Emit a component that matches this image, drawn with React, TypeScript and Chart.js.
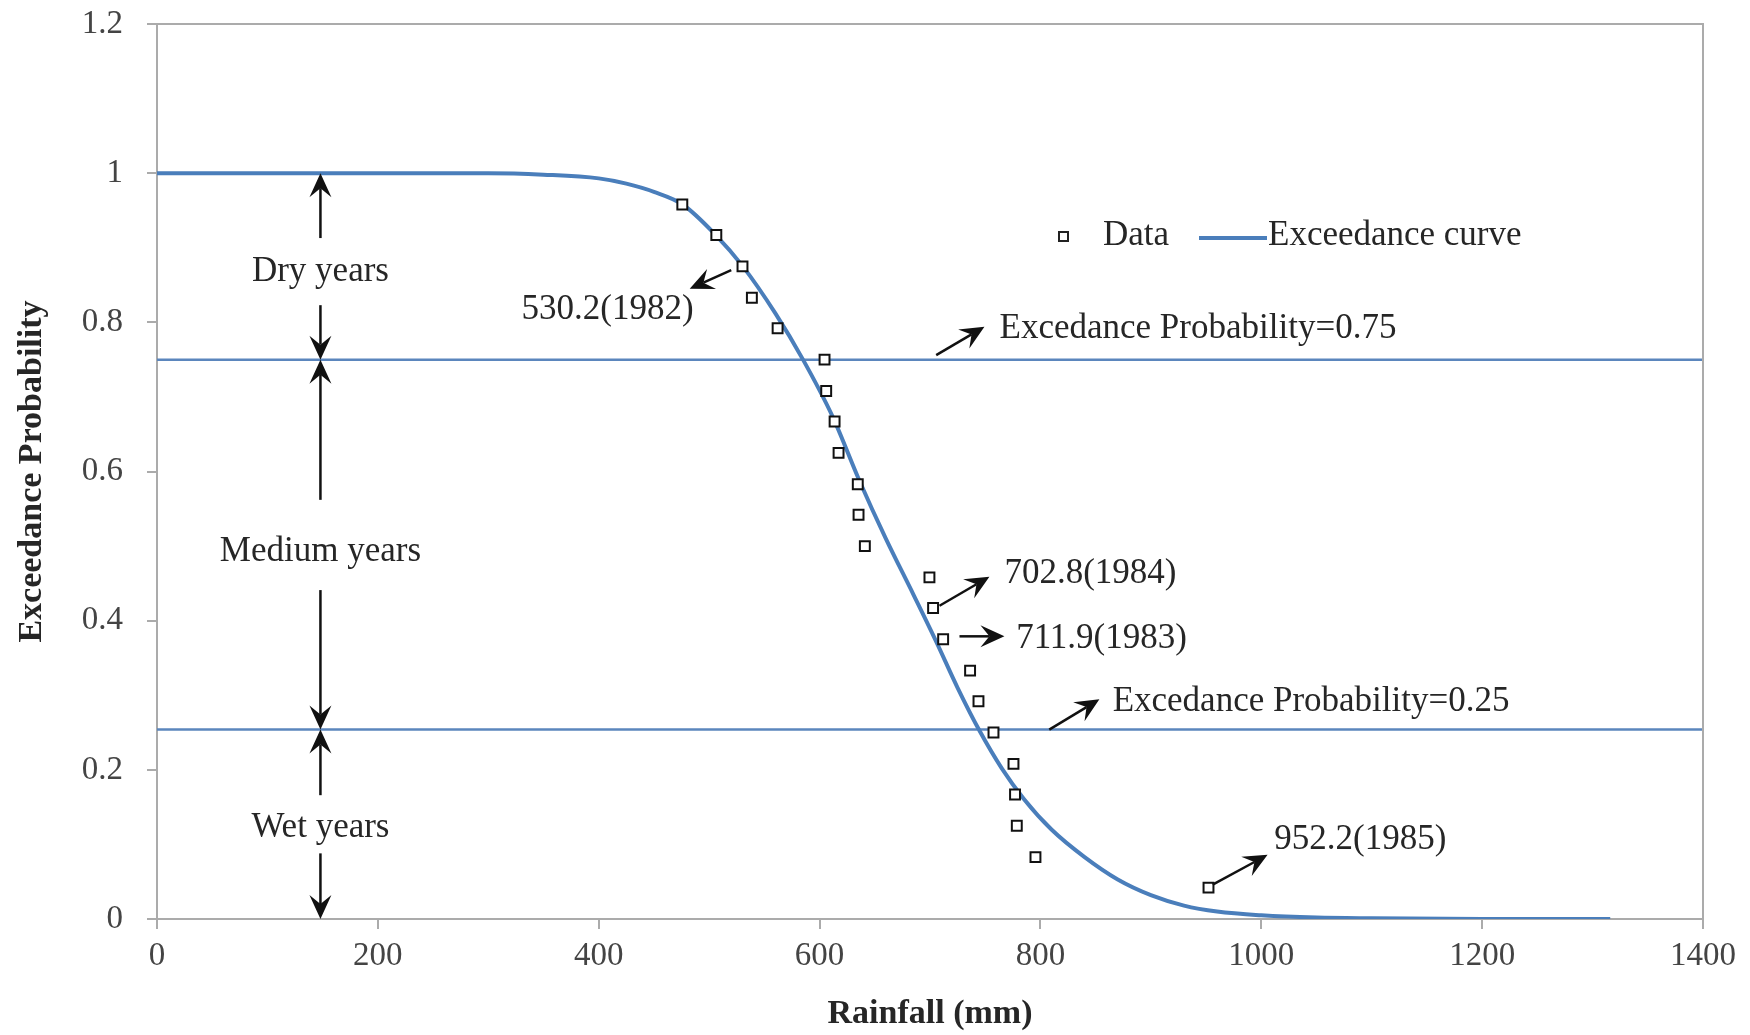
import React, { useEffect, useRef } from 'react';
import { Chart, registerables } from 'chart.js';

Chart.register(...registerables);

// ---- Data ----
const rainfall = [475.7, 506.5, 530.2, 538.7, 562, 604.5, 606, 613.6, 617.2, 634.6, 635.3, 641, 699.5, 702.8, 711.9, 736.3, 743.9, 757.5, 775.6, 777, 778.6, 795.5, 952.2];
const exceedance = [0.958, 0.917, 0.875, 0.833, 0.792, 0.75, 0.708, 0.667, 0.625, 0.583, 0.542, 0.5, 0.458, 0.417, 0.375, 0.333, 0.292, 0.25, 0.208, 0.167, 0.125, 0.083, 0.042];

const curveX = [0, 100, 200, 300, 350, 400, 425, 450, 476, 506, 530, 560, 585, 612, 636, 660, 685, 705, 725, 745, 765, 785, 810, 840, 870, 900, 930, 960, 1000, 1050, 1100, 1200, 1316];
const curveY = [1, 1, 1, 1, 0.998, 0.993, 0.986, 0.975, 0.958, 0.917, 0.876, 0.812, 0.75, 0.673, 0.588, 0.51, 0.435, 0.374, 0.31, 0.252, 0.202, 0.161, 0.12, 0.083, 0.053, 0.032, 0.018, 0.01, 0.005, 0.002, 0.001, 0, 0];

const thresholdLevels = [0.75, 0.254];
const thresholdRange = [0, 1400];

const xTicks = [0, 200, 400, 600, 800, 1000, 1200, 1400];
const yTicks = [0, 0.2, 0.4, 0.6, 0.8, 1, 1.2];
const yTickLabels = ['0', '0.2', '0.4', '0.6', '0.8', '1', '1.2'];

const bandLabels = ['Dry years', 'Medium years', 'Wet years'];
const bandLabelY = [0.868, 0.492, 0.122];
const bandX = 148;
const bandArrows = [
  [0.913, 1.0],
  [0.823, 0.75],
  [0.562, 0.75],
  [0.441, 0.254],
  [0.166, 0.254],
  [0.088, 0],
];

const calloutTexts = ['530.2(1982)', 'Excedance Probability=0.75', '702.8(1984)', '711.9(1983)', 'Excedance Probability=0.25', '952.2(1985)'];
const calloutTextX = [408, 763, 767.4, 778, 865.4, 1011.8];
const calloutTextY = [0.817, 0.791, 0.463, 0.376, 0.291, 0.106];
const calloutAlign = ['center', 'left', 'left', 'left', 'left', 'left'];
const calloutArrowFrom = [[520, 0.87], [705.6, 0.756], [708.6, 0.42], [726.7, 0.379], [808, 0.254], [956, 0.046]];
const calloutArrowTo = [[482.4, 0.845], [749.3, 0.794], [753.8, 0.459], [767.4, 0.379], [853.4, 0.2945], [1005.7, 0.086]];

const legendLabels = ['Data', 'Exceedance curve'];

const SERIF = '"Liberation Serif", "Times New Roman", serif';
const AXIS_COLOR = '#ababab';
const CURVE_COLOR = '#4a7ebb';
const LINE_COLOR = '#5b86bd';
const TEXT_COLOR = '#262626';

function drawArrow(ctx: CanvasRenderingContext2D, x1: number, y1: number, x2: number, y2: number) {
  const ang = Math.atan2(y2 - y1, x2 - x1);
  const L = 24;
  const W = 11;
  const notch = 15;
  const cos = Math.cos(ang);
  const sin = Math.sin(ang);
  ctx.beginPath();
  ctx.moveTo(x1, y1);
  ctx.lineTo(x2 - cos * notch, y2 - sin * notch);
  ctx.stroke();
  ctx.beginPath();
  ctx.moveTo(x2, y2);
  ctx.lineTo(x2 - cos * L - sin * W, y2 - sin * L + cos * W);
  ctx.lineTo(x2 - cos * notch, y2 - sin * notch);
  ctx.lineTo(x2 - cos * L + sin * W, y2 - sin * L - cos * W);
  ctx.closePath();
  ctx.fill();
}

const annotationPlugin = {
  id: 'annotations',
  afterDraw(chart: any) {
    const { ctx, chartArea, scales } = chart;
    const xs = scales.x;
    const ys = scales.y;
    ctx.save();
    // top / right border
    ctx.strokeStyle = AXIS_COLOR;
    ctx.lineWidth = 2;
    ctx.beginPath();
    ctx.moveTo(chartArea.left, chartArea.top);
    ctx.lineTo(chartArea.right, chartArea.top);
    ctx.lineTo(chartArea.right, chartArea.bottom);
    ctx.stroke();

    ctx.fillStyle = '#111';
    ctx.strokeStyle = '#111';
    ctx.lineWidth = 2.5;
    // band arrows
    const bx = xs.getPixelForValue(bandX);
    bandArrows.forEach(([from, to]) => {
      drawArrow(ctx, bx, ys.getPixelForValue(from), bx, ys.getPixelForValue(to));
    });
    calloutArrowFrom.forEach((f, i) => {
      const t = calloutArrowTo[i];
      drawArrow(ctx, xs.getPixelForValue(f[0]), ys.getPixelForValue(f[1]), xs.getPixelForValue(t[0]), ys.getPixelForValue(t[1]));
    });

    // texts
    ctx.fillStyle = TEXT_COLOR;
    ctx.font = `35px ${SERIF}`;
    ctx.textBaseline = 'middle';
    ctx.textAlign = 'center';
    bandLabels.forEach((t, i) => {
      ctx.fillText(t, bx, ys.getPixelForValue(bandLabelY[i]));
    });
    calloutTexts.forEach((t, i) => {
      ctx.textAlign = calloutAlign[i] as CanvasTextAlign;
      ctx.fillText(t, xs.getPixelForValue(calloutTextX[i]), ys.getPixelForValue(calloutTextY[i]));
    });

    // legend
    const ly = 236;
    ctx.strokeStyle = '#222';
    ctx.lineWidth = 2;
    ctx.strokeRect(1059, ly - 4, 9, 9);
    ctx.textAlign = 'left';
    ctx.fillText(legendLabels[0], 1103, ly);
    ctx.strokeStyle = CURVE_COLOR;
    ctx.lineWidth = 4;
    ctx.beginPath();
    ctx.moveTo(1199, ly + 2);
    ctx.lineTo(1267, ly + 2);
    ctx.stroke();
    ctx.fillText(legendLabels[1], 1268, ly);
    ctx.restore();
  },
};

export default function App() {
  const ref = useRef<HTMLCanvasElement>(null);
  useEffect(() => {
    if (!ref.current) return;
    const dataPoints = rainfall.map((r, i) => ({ x: r, y: exceedance[i] }));
    const curvePoints = curveX.map((r, i) => ({ x: r, y: curveY[i] }));
    const thresholdSets = thresholdLevels.map((lv) => ({
      label: 'threshold ' + lv,
      data: thresholdRange.map((r) => ({ x: r, y: lv })),
      borderColor: LINE_COLOR,
      borderWidth: 2.5,
      pointRadius: 0,
      showLine: true,
      fill: false,
    }));
    const chart = new Chart(ref.current, {
      type: 'scatter',
      data: {
        datasets: [
          {
            label: legendLabels[0],
            data: dataPoints,
            pointStyle: 'rect',
            pointRadius: 7,
            pointBorderWidth: 2,
            pointBorderColor: '#111',
            pointBackgroundColor: '#ffffff',
            showLine: false,
          },
          {
            label: legendLabels[1],
            data: curvePoints,
            borderColor: CURVE_COLOR,
            borderWidth: 4,
            pointRadius: 0,
            showLine: true,
            cubicInterpolationMode: 'monotone',
            fill: false,
          },
          ...thresholdSets,
        ] as any,
      },
      options: {
        responsive: false,
        animation: false,
        layout: { padding: { top: 24, right: 47, left: 0, bottom: 0 } },
        plugins: { legend: { display: false }, tooltip: { enabled: false } },
        scales: {
          x: {
            type: 'linear',
            min: 0,
            max: 1400,
            afterBuildTicks: (s: any) => {
              s.ticks = xTicks.map((v) => ({ value: v }));
            },
            afterFit: (s: any) => {
              s.height = 116;
            },
            grid: { drawOnChartArea: false, drawTicks: true, tickLength: 10, color: AXIS_COLOR, lineWidth: 2 },
            border: { display: true, color: AXIS_COLOR, width: 2 },
            ticks: {
              color: '#444',
              font: { family: SERIF, size: 33 },
              padding: 8,
              maxRotation: 0,
              autoSkip: false,
              callback: (v: any) => String(v),
            },
            title: {
              display: true,
              text: 'Rainfall (mm)',
              color: TEXT_COLOR,
              font: { family: SERIF, size: 34, weight: 'bold' },
              padding: { top: 0, bottom: 0 },
            },
          },
          y: {
            type: 'linear',
            min: 0,
            max: 1.2,
            afterBuildTicks: (s: any) => {
              s.ticks = yTicks.map((v) => ({ value: v }));
            },
            afterFit: (s: any) => {
              s.width = 157;
              s.paddingTop = 0;
              s.paddingBottom = 0;
            },
            grid: { drawOnChartArea: false, drawTicks: true, tickLength: 10, color: AXIS_COLOR, lineWidth: 2 },
            border: { display: true, color: AXIS_COLOR, width: 2 },
            ticks: {
              color: '#444',
              font: { family: SERIF, size: 33 },
              padding: 24,
              autoSkip: false,
              callback: (v: any) => {
                const idx = yTicks.findIndex((t) => Math.abs(t - v) < 1e-9);
                return idx >= 0 ? yTickLabels[idx] : '';
              },
            },
            title: {
              display: true,
              text: 'Exceedance Probability',
              color: TEXT_COLOR,
              font: { family: SERIF, size: 34, weight: 'bold' },
              padding: { top: 12, bottom: 0 },
            },
          },
        },
      },
      plugins: [annotationPlugin],
    });
    return () => chart.destroy();
  }, []);
  return (
    <div style={{ position: 'absolute', left: 0, top: 0, width: 1750, height: 1035, background: '#fff' }}>
      <canvas ref={ref} width={1750} height={1035} style={{ display: 'block' }} />
    </div>
  );
}
